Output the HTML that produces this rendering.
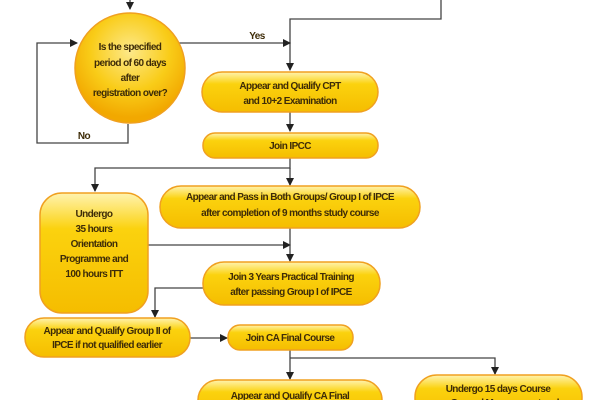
<!DOCTYPE html>
<html><head><meta charset="utf-8"><style>
html,body{margin:0;padding:0;background:#fff;width:600px;height:400px;overflow:hidden}
svg text{font-family:"Liberation Sans",sans-serif;font-size:10px;font-weight:bold;fill:#3e2c08;text-anchor:middle;letter-spacing:-0.6px}
</style></head><body>
<svg width="600" height="400" viewBox="0 0 600 400" xmlns="http://www.w3.org/2000/svg">
<defs>
<linearGradient id="g" x1="0" y1="0" x2="0" y2="1">
<stop offset="0" stop-color="#fff3b0"/><stop offset="0.3" stop-color="#fbd20e"/><stop offset="1" stop-color="#f5bd00"/></linearGradient>
<radialGradient id="c" cx="0.5" cy="0.35" r="0.6">
<stop offset="0" stop-color="#fde98a"/><stop offset="0.6" stop-color="#f9cc18"/><stop offset="1" stop-color="#f2a800"/></radialGradient>
<marker id="a" markerWidth="8" markerHeight="8" refX="7" refY="4" orient="auto" markerUnits="userSpaceOnUse"><path d="M0,0L8,4L0,8z" fill="#222"/></marker>
</defs>
<g stroke="#444" stroke-width="1.3" fill="none">
<line x1="130" y1="0" x2="130" y2="9" marker-end="url(#a)"/>
<polyline points="441,0 441,19 290,19 290,70" marker-end="url(#a)"/>
<line x1="178" y1="43" x2="290" y2="43" marker-end="url(#a)"/>
<polyline points="128,124 128,143 37,143 37,43 77,43" marker-end="url(#a)"/>
<line x1="290" y1="112" x2="290" y2="131" marker-end="url(#a)"/>
<polyline points="290,158 290,168 95,168 95,191" marker-end="url(#a)"/>
<line x1="290" y1="168" x2="290" y2="185" marker-end="url(#a)"/>
<line x1="148" y1="245" x2="290" y2="245" marker-end="url(#a)"/>
<line x1="290" y1="228" x2="290" y2="261" marker-end="url(#a)"/>
<polyline points="203,288 155,288 155,317" marker-end="url(#a)"/>
<line x1="190" y1="338" x2="227" y2="338" marker-end="url(#a)"/>
<polyline points="290,350 290,379" marker-end="url(#a)"/>
<polyline points="290,358 495,358 495,374" marker-end="url(#a)"/>
</g>
<g stroke="#f0a020" stroke-width="1.5" fill="url(#g)">
<circle cx="130" cy="68" r="55" fill="url(#c)"/>
<rect x="202" y="72" width="176" height="40" rx="20"/>
<rect x="203" y="133" width="175" height="25" rx="12"/>
<rect x="160" y="186" width="260" height="42" rx="21"/>
<rect x="40" y="193" width="108" height="120" rx="22"/>
<rect x="203" y="262" width="177" height="43" rx="21"/>
<rect x="25" y="318" width="165" height="39" rx="19"/>
<rect x="228" y="325" width="125" height="25" rx="12"/>
<rect x="198" y="380" width="184" height="40" rx="20"/>
<rect x="415" y="375" width="167" height="45" rx="22"/>
</g>
<text x="130" y="50">Is the specified</text>
<text x="130" y="66">period of 60 days</text>
<text x="130" y="81">after</text>
<text x="130" y="96">registration over?</text>
<text x="257" y="39">Yes</text>
<text x="84" y="139">No</text>
<text x="290" y="89">Appear and Qualify CPT</text>
<text x="290" y="104">and 10+2 Examination</text>
<text x="290" y="149">Join IPCC</text>
<text x="290" y="200">Appear and Pass in Both Groups/ Group I of IPCE</text>
<text x="290" y="216">after completion of 9 months study course</text>
<text x="94" y="217">Undergo</text>
<text x="94" y="232">35 hours</text>
<text x="94" y="247">Orientation</text>
<text x="94" y="262">Programme and</text>
<text x="94" y="277">100 hours ITT</text>
<text x="291" y="280">Join 3 Years Practical Training</text>
<text x="291" y="295">after passing Group I of IPCE</text>
<text x="107" y="334">Appear and Qualify Group II of</text>
<text x="107" y="348">IPCE if not qualified earlier</text>
<text x="290" y="341">Join CA Final Course</text>
<text x="290" y="399">Appear and Qualify CA Final</text>
<text x="498" y="392">Undergo 15 days Course</text>
<text x="498" y="406">on General Management and</text>
</svg>
</body></html>
